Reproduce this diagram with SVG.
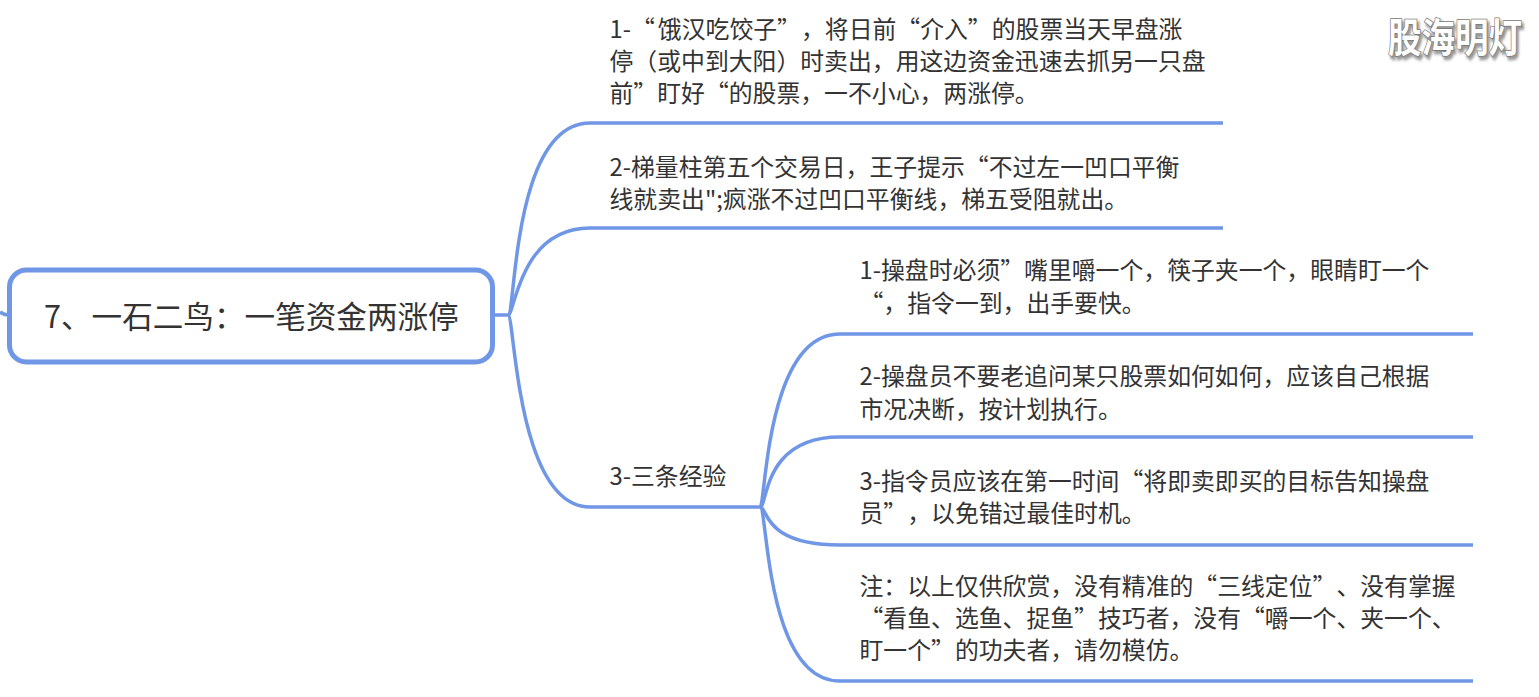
<svg xmlns="http://www.w3.org/2000/svg" width="1539" height="697" viewBox="0 0 1539 697">
<style>
text{font-family:"Noto Sans CJK SC","Liberation Sans",sans-serif;fill:#333;text-spacing-trim:space-all;font-feature-settings:"chws" 0,"palt" 0}
.t{font-size:23.85px}
.c{fill:none;stroke:#7096e6;stroke-width:3.5px}
.title{font-size:30.6px}
.wm{font-size:33.5px;font-weight:700;fill:#fff;stroke:#777;stroke-width:1.2px;paint-order:stroke fill}
.sh{font-size:33.500px;font-weight:700;fill:#999;stroke:#999;stroke-width:2px}
</style>
<defs><filter id="b" x="-10%" y="-30%" width="120%" height="160%"><feGaussianBlur stdDeviation="1.2"/></filter></defs>
<rect width="1539" height="697" fill="#fff"/>
<g id="connectors">
<path class="c" d="M0 312Q4 315 9 315"/>
<path class="c" d="M493 315H508C516 315 512 123 590 123H1223"/>
<path class="c" d="M508 315C515 315 519 228 590 228H1223"/>
<path class="c" d="M508 315C515 315 516 507 590 507H760"/>
<path class="c" d="M760 507C766 507 765 334 840 334H1473"/>
<path class="c" d="M760 507C768 507 762 437 840 437H1473"/>
<path class="c" d="M760 507C768 507 762 545 840 545H1473"/>
<path class="c" d="M760 507C768 507 765 681 840 681H1473"/>
</g>
<g id="root"><rect x="9.500" y="270" width="483" height="92" rx="17" fill="#fff" stroke="#7096e6" stroke-width="5"/>
<text class="title" x="44" y="328">7、一石二鸟：一笔资金两涨停</text></g>
<g id="n1"><text class="t" x="609.500" y="38">1-“<tspan dx="3">饿汉吃饺子</tspan>”，将日前“介入”的股票当天早盘涨</text>
<text class="t" x="609.500" y="70">停（或中到大阳）时卖出，用这边资金迅速去抓另一只盘</text>
<text class="t" x="609.500" y="102">前”盯好“的股票，一不小心，两涨停。</text></g>
<g id="n2"><text class="t" x="609.500" y="176">2-梯量柱第五个交易日，王子提示“不过左一凹口平衡</text>
<text class="t" x="609.500" y="208">线就卖出";疯涨不过凹口平衡线，梯五受阻就出。</text></g>
<g id="n3"><text class="t" x="609.500" y="485">3-三条经验</text></g>
<g id="n31"><text class="t" x="859.500" y="279">1-操盘时必须”嘴里嚼一个，筷子夹一个，眼睛盯一个</text>
<text class="t" x="859.500" y="312">“，指令一到，出手要快。</text></g>
<g id="n32"><text class="t" x="859.500" y="385">2-操盘员不要老追问某只股票如何如何，应该自己根据</text>
<text class="t" x="859.500" y="418">市况决断，按计划执行。</text></g>
<g id="n33"><text class="t" x="859.500" y="490">3-指令员应该在第一时间“将即卖即买的目标告知操盘</text>
<text class="t" x="859.500" y="522">员”，以免错过最佳时机。</text></g>
<g id="n34"><text class="t" x="859.500" y="595">注：以上仅供欣赏，没有精准的“三线定位”、没有掌握</text>
<text class="t" x="859.500" y="627">“看鱼、选鱼、捉鱼”技巧者，没有“嚼一个、夹一个、</text>
<text class="t" x="859.500" y="659">盯一个”的功夫者，请勿模仿。</text></g>
<g id="watermark"><text class="sh" transform="translate(1390 54.500) scale(1 1.2)" filter="url(#b)">股海明灯</text>
<text class="wm" transform="translate(1388 52) scale(1 1.2)">股海明灯</text></g>
</svg>
